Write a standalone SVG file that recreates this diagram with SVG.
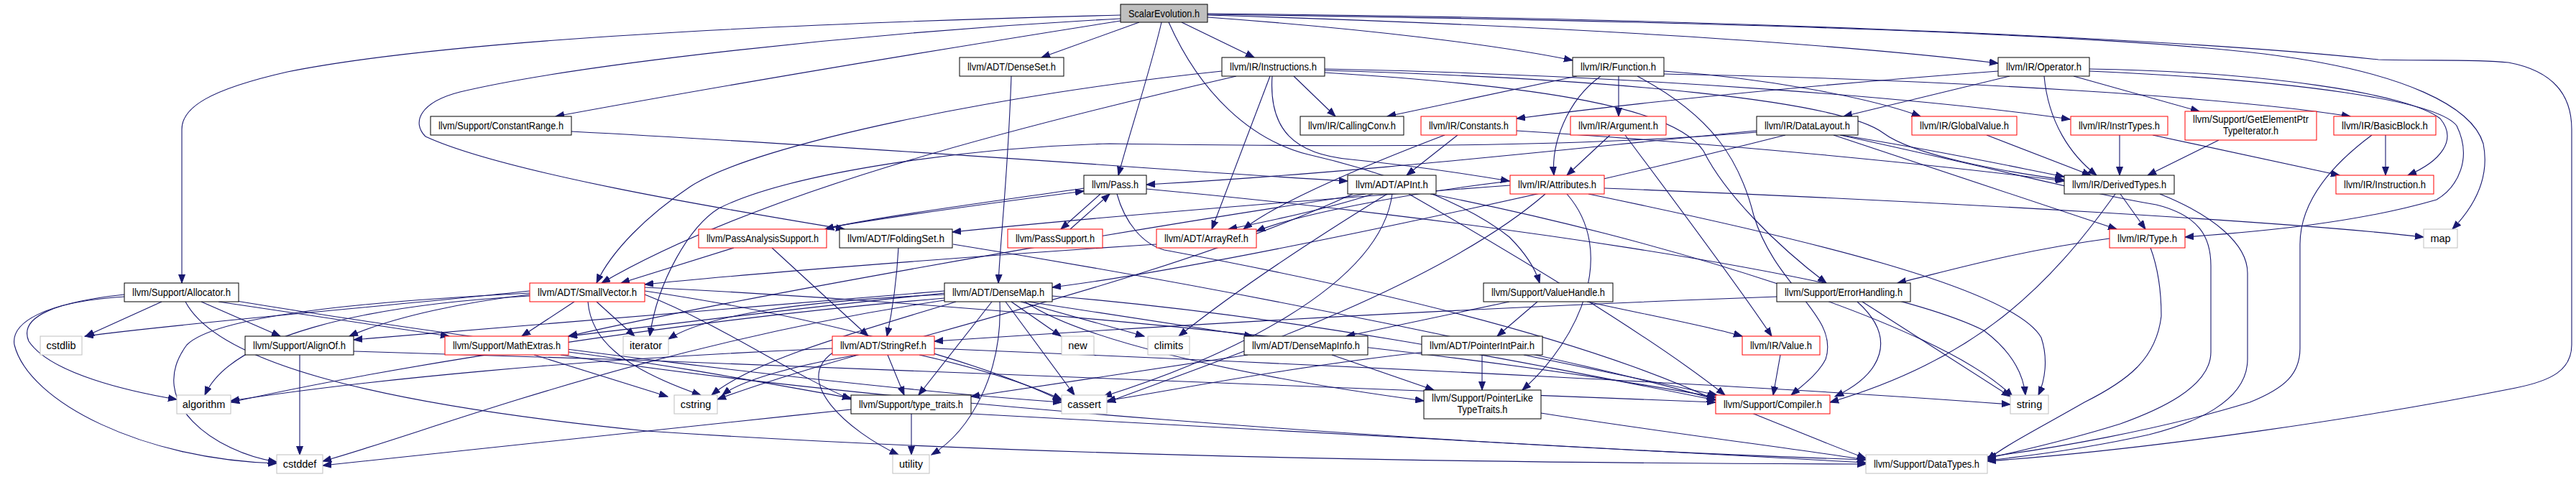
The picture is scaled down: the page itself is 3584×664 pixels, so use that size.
<svg xmlns="http://www.w3.org/2000/svg" width="3584" height="664" viewBox="0 0 3584 664">
<defs>
<style>
.n rect{fill:#fff;stroke:#000;stroke-width:1}
.n.r rect{stroke:#ff0000}
.n.g rect{stroke:#bfbfbf}
.n.root rect{fill:#bfbfbf}
text{font-family:"Liberation Sans",Arial,sans-serif;font-size:14.5px;fill:#000;text-anchor:middle}
#edges path{fill:none;stroke:#191970;stroke-width:1.1;marker-end:url(#ah)}
</style>
<marker id="ah" markerUnits="userSpaceOnUse" markerWidth="13" markerHeight="10" refX="12" refY="5" orient="auto"><path d="M0,0.5 L12,5 L0,9.5 z" fill="#191970" stroke="#191970" stroke-width="1"/></marker>
</defs>
<rect width="3584" height="664" fill="#fff"/>
<g id="edges">
<path d="M1585,31 L1449,80"/>
<path d="M1644,31 L1745,80"/>
<path d="M1616,31 C1600,100 1570,190 1556,244"/>
<path d="M1626,31 C1670,130 1740,195 1820,215 C1950,245 2050,290 2100,330 C2120,350 2135,370 2142,394"/>
<path d="M1680,24 C1900,40 2080,62 2188,84"/>
<path d="M1680,21 C2150,35 2550,60 2780,88"/>
<path d="M1680,20 C2300,28 2900,45 3150,75 C3350,100 3440,150 3455,200 C3465,250 3440,290 3412,319"/>
<path d="M1680,19 C2300,24 3000,50 3309,83 C3380,85 3440,82 3490,87 C3560,100 3578,140 3578,180 L3578,480 C3578,515 3550,530 3500,540 C3300,580 3000,625 2765,642"/>
<path d="M1559,29 C1300,70 1000,120 773,162"/>
<path d="M1559,21 C1000,35 600,60 400,100 C290,125 253,150 253,180 L253,394"/>
<path d="M1559,26 C1200,45 800,90 640,128 C585,142 572,170 592,190 C700,240 1000,290 1175,319"/>
<path d="M1407,106 C1402,250 1392,330 1389,394"/>
<path d="M1800,106 L1858,162"/>
<path d="M1767,106 L1686,319"/>
<path d="M1700,99 C1400,130 1050,200 960,260 C900,300 850,350 830,394"/>
<path d="M1720,106 C1400,180 1050,270 837,394"/>
<path d="M2444,184 C2200,205 1900,205 1544,200 C1350,205 1100,240 1000,290 C960,315 915,390 904,468"/>
<path d="M1770,106 C1765,180 1800,215 1880,222 C1960,230 2040,242 2100,252"/>
<path d="M1843,96 C2300,105 2700,140 2880,166"/>
<path d="M1843,98 C2250,110 2560,140 2620,185 C2660,215 2780,238 2871,250"/>
<path d="M1843,101 C2150,120 2330,150 2370,210 C2400,270 2470,340 2541,394"/>
<path d="M2194,106 L1930,162"/>
<path d="M2252,106 L2252,162"/>
<path d="M2227,106 C2180,140 2158,200 2162,244"/>
<path d="M2315,99 C2450,108 2600,135 2672,162"/>
<path d="M2315,103 C2700,110 3100,135 3270,162"/>
<path d="M2278,106 C2380,160 2420,220 2440,300 C2470,400 2560,440 2540,500 C2530,520 2510,535 2492,550"/>
<path d="M2780,99 C2500,120 2300,140 2110,165"/>
<path d="M2796,106 L2565,162"/>
<path d="M2844,106 C2850,170 2880,215 2917,244"/>
<path d="M2885,106 L3060,155"/>
<path d="M2907,96 C3150,100 3350,130 3395,165 C3420,195 3395,225 3350,244"/>
<path d="M2907,99 C3200,112 3390,140 3418,175 C3440,220 3420,260 3390,278 C3280,310 3150,322 3040,330"/>
<path d="M795,183 C1300,210 1700,243 1875,252"/>
<path d="M2028,188 L1957,244"/>
<path d="M2010,188 C1900,230 1780,280 1730,319"/>
<path d="M2110,182 C2400,200 2700,230 2872,252"/>
<path d="M2240,188 L2180,244"/>
<path d="M2261,188 C2330,280 2420,400 2465,468"/>
<path d="M2444,182 C2200,205 1900,240 1595,257"/>
<path d="M2484,188 C2200,260 1700,370 1464,400"/>
<path d="M2561,188 C2700,210 2800,232 2872,246"/>
<path d="M2551,188 L2945,319"/>
<path d="M2560,188 C2800,240 2900,268 3000,285 C3060,300 3076,330 3076,370 L3076,490 C3076,540 3000,572 2950,590 C2870,615 2800,630 2765,638"/>
<path d="M2764,188 L2909,244"/>
<path d="M2949,188 L2949,244"/>
<path d="M2995,188 L3255,244"/>
<path d="M3087,195 L2988,244"/>
<path d="M3319,188 L3319,244"/>
<path d="M3300,188 C3230,240 3200,290 3200,340 L3200,485 C3200,520 3180,540 3130,560 C3000,600 2850,625 2765,636"/>
<path d="M1508,262 C1350,285 1200,305 1148,319"/>
<path d="M1531,270 L1476,319"/>
<path d="M1554,270 C1565,310 1590,340 1620,348 C1900,400 2200,470 2387,557"/>
<path d="M1595,263 C2000,300 2600,380 2760,460 C2800,490 2815,520 2818,550"/>
<path d="M1489,319 L1544,270"/>
<path d="M1150,317 C1250,300 1400,280 1508,266"/>
<path d="M1021,345 L864,394"/>
<path d="M1074,345 L1208,468"/>
<path d="M1250,345 C1247,400 1240,440 1234,468"/>
<path d="M1326,340 C1700,400 2200,500 2400,560 C2500,600 2560,625 2596,638"/>
<path d="M1609,340 C1300,360 1000,385 897,396"/>
<path d="M1910,270 C1850,290 1780,305 1709,319"/>
<path d="M1900,270 C1500,330 1000,420 791,468"/>
<path d="M1930,270 C1800,350 1700,420 1640,468"/>
<path d="M1937,270 C1920,400 1700,500 1535,552"/>
<path d="M1882,270 C1600,400 1200,480 998,556"/>
<path d="M1990,270 C2300,330 2700,450 2800,552"/>
<path d="M1960,270 C2100,350 2300,470 2400,550"/>
<path d="M2101,252 C1950,270 1800,300 1748,322"/>
<path d="M2101,258 C1800,280 1500,305 1325,323"/>
<path d="M2232,262 C2700,280 3200,310 3372,330"/>
<path d="M2180,270 C2250,350 2200,470 2118,543"/>
<path d="M2150,270 C2000,400 1700,500 1540,560"/>
<path d="M2210,270 C2500,330 2800,400 2840,470 C2850,500 2845,530 2836,550"/>
<path d="M2950,270 L2985,319"/>
<path d="M2943,270 C2850,400 2750,500 2546,560"/>
<path d="M3005,270 C3080,300 3127,340 3127,380 L3127,500 C3127,560 3050,590 2990,605 C2900,625 2820,635 2765,641"/>
<path d="M2935,332 C2800,350 2700,380 2640,394"/>
<path d="M2992,345 C3005,380 3007,420 3007,440 C3000,500 2960,530 2900,560 C2830,600 2790,620 2765,640"/>
<path d="M2100,420 L1873,468"/>
<path d="M2139,420 L2083,468"/>
<path d="M2208,420 C2300,440 2380,455 2424,468"/>
<path d="M2472,413 C2000,430 1600,455 1300,475"/>
<path d="M2584,420 C2640,470 2620,520 2553,552"/>
<path d="M2591,420 L2797,552"/>
<path d="M2477,494 L2467,550"/>
<path d="M225,420 L119,468"/>
<path d="M280,420 L390,468"/>
<path d="M173,410 C80,420 25,440 40,475 C70,520 180,545 246,556"/>
<path d="M173,413 C60,420 15,450 20,480 C40,560 200,640 385,645"/>
<path d="M304,420 L625,468"/>
<path d="M329,419 C700,480 1200,540 1477,560"/>
<path d="M258,420 C300,500 500,560 900,600 C1500,640 2200,645 2596,646"/>
<path d="M417,494 L417,633"/>
<path d="M492,489 C1200,510 2000,540 2387,560"/>
<path d="M799,420 L726,468"/>
<path d="M830,420 L883,468"/>
<path d="M818,420 C822,470 860,510 975,550"/>
<path d="M737,410 C650,420 550,440 486,468"/>
<path d="M737,405 C500,430 250,450 118,468"/>
<path d="M737,412 C500,425 320,470 285,550"/>
<path d="M737,408 C500,420 300,440 260,480 C200,560 300,630 385,643"/>
<path d="M897,410 C1000,450 1100,520 1184,556"/>
<path d="M897,405 C1200,450 1400,520 1477,558"/>
<path d="M897,400 C1500,430 2100,500 2387,553"/>
<path d="M743,494 L929,552"/>
<path d="M791,490 C950,510 1100,540 1184,554"/>
<path d="M780,494 C1200,560 2000,620 2596,640"/>
<path d="M1235,494 L1258,550"/>
<path d="M1279,494 C1350,510 1420,530 1477,556"/>
<path d="M1193,494 C1100,510 1030,530 1005,550"/>
<path d="M1158,485 C800,500 500,530 321,558"/>
<path d="M1160,490 C1100,530 1180,600 1250,633"/>
<path d="M1300,485 C1900,510 2500,540 2797,563"/>
<path d="M1380,420 L1278,550"/>
<path d="M1391,420 C1395,520 1350,600 1296,633"/>
<path d="M1399,420 L1495,550"/>
<path d="M1407,420 L1476,468"/>
<path d="M1420,420 L1592,468"/>
<path d="M1430,420 L1743,468"/>
<path d="M1426,420 C1500,470 1700,520 1981,558"/>
<path d="M1464,412 C1800,440 2100,500 2387,557"/>
<path d="M1314,405 C1000,430 700,455 492,473"/>
<path d="M1314,408 C1100,430 900,455 791,468"/>
<path d="M1314,415 C900,450 500,520 321,560"/>
<path d="M1314,418 C900,480 600,600 449,642"/>
<path d="M1330,420 C1200,460 1050,500 990,550"/>
<path d="M1314,410 C1100,420 980,440 930,472"/>
<path d="M1853,494 L1995,543"/>
<path d="M1736,494 L1351,552"/>
<path d="M2062,494 L2062,543"/>
<path d="M2120,494 L2389,550"/>
<path d="M1982,490 C1800,510 1650,540 1540,558"/>
<path d="M2144,575 C2300,600 2500,625 2596,640"/>
<path d="M1268,576 L1268,633"/>
<path d="M1351,576 C1800,600 2300,630 2596,644"/>
<path d="M1184,570 C900,600 600,630 449,648"/>
</g>
<g id="n_se" class="n root"><rect x="1559" y="6" width="121" height="25"/><text x="1619.5" y="24" textLength="99" lengthAdjust="spacingAndGlyphs">ScalarEvolution.h</text></g>
<g id="n_denseset" class="n"><rect x="1335" y="80" width="145" height="26"/><text x="1407.5" y="98" textLength="123" lengthAdjust="spacingAndGlyphs">llvm/ADT/DenseSet.h</text></g>
<g id="n_instructions" class="n"><rect x="1700" y="80" width="143" height="26"/><text x="1771.5" y="98" textLength="121" lengthAdjust="spacingAndGlyphs">llvm/IR/Instructions.h</text></g>
<g id="n_function" class="n"><rect x="2188" y="80" width="127" height="26"/><text x="2251.5" y="98" textLength="105" lengthAdjust="spacingAndGlyphs">llvm/IR/Function.h</text></g>
<g id="n_operator" class="n"><rect x="2780" y="80" width="127" height="26"/><text x="2843.5" y="98" textLength="105" lengthAdjust="spacingAndGlyphs">llvm/IR/Operator.h</text></g>
<g id="n_constantrange" class="n"><rect x="599" y="162" width="196" height="26"/><text x="697" y="180" textLength="174" lengthAdjust="spacingAndGlyphs">llvm/Support/ConstantRange.h</text></g>
<g id="n_callingconv" class="n"><rect x="1809" y="162" width="144" height="26"/><text x="1881" y="180" textLength="122" lengthAdjust="spacingAndGlyphs">llvm/IR/CallingConv.h</text></g>
<g id="n_constants" class="n r"><rect x="1977" y="162" width="133" height="26"/><text x="2043.5" y="180" textLength="111" lengthAdjust="spacingAndGlyphs">llvm/IR/Constants.h</text></g>
<g id="n_argument" class="n r"><rect x="2185" y="162" width="133" height="26"/><text x="2251.5" y="180" textLength="111" lengthAdjust="spacingAndGlyphs">llvm/IR/Argument.h</text></g>
<g id="n_datalayout" class="n"><rect x="2444" y="162" width="141" height="26"/><text x="2514.5" y="180" textLength="119" lengthAdjust="spacingAndGlyphs">llvm/IR/DataLayout.h</text></g>
<g id="n_globalvalue" class="n r"><rect x="2660" y="162" width="146" height="26"/><text x="2733" y="180" textLength="124" lengthAdjust="spacingAndGlyphs">llvm/IR/GlobalValue.h</text></g>
<g id="n_instrtypes" class="n r"><rect x="2881" y="162" width="135" height="26"/><text x="2948.5" y="180" textLength="113" lengthAdjust="spacingAndGlyphs">llvm/IR/InstrTypes.h</text></g>
<g id="n_gep" class="n r"><rect x="3040" y="155" width="183" height="40"/><text x="3131.5" y="171" textLength="161" lengthAdjust="spacingAndGlyphs">llvm/Support/GetElementPtr</text><text x="3131.5" y="187" textLength="77" lengthAdjust="spacingAndGlyphs">TypeIterator.h</text></g>
<g id="n_basicblock" class="n r"><rect x="3247" y="162" width="142" height="26"/><text x="3318" y="180" textLength="120" lengthAdjust="spacingAndGlyphs">llvm/IR/BasicBlock.h</text></g>
<g id="n_pass" class="n"><rect x="1508" y="244" width="87" height="26"/><text x="1551.5" y="262" textLength="65" lengthAdjust="spacingAndGlyphs">llvm/Pass.h</text></g>
<g id="n_apint" class="n"><rect x="1875" y="244" width="123" height="26"/><text x="1936.5" y="262" textLength="101" lengthAdjust="spacingAndGlyphs">llvm/ADT/APInt.h</text></g>
<g id="n_attributes" class="n r"><rect x="2101" y="244" width="131" height="26"/><text x="2166.5" y="262" textLength="109" lengthAdjust="spacingAndGlyphs">llvm/IR/Attributes.h</text></g>
<g id="n_derivedtypes" class="n"><rect x="2872" y="244" width="153" height="26"/><text x="2948.5" y="262" textLength="131" lengthAdjust="spacingAndGlyphs">llvm/IR/DerivedTypes.h</text></g>
<g id="n_instruction" class="n r"><rect x="3250" y="244" width="136" height="26"/><text x="3318" y="262" textLength="114" lengthAdjust="spacingAndGlyphs">llvm/IR/Instruction.h</text></g>
<g id="n_pas" class="n r"><rect x="972" y="319" width="178" height="26"/><text x="1061" y="337" textLength="156" lengthAdjust="spacingAndGlyphs">llvm/PassAnalysisSupport.h</text></g>
<g id="n_foldingset" class="n"><rect x="1168" y="319" width="157" height="26"/><text x="1246.5" y="337" textLength="135" lengthAdjust="spacingAndGlyphs">llvm/ADT/FoldingSet.h</text></g>
<g id="n_passsupport" class="n r"><rect x="1402" y="319" width="132" height="26"/><text x="1468" y="337" textLength="110" lengthAdjust="spacingAndGlyphs">llvm/PassSupport.h</text></g>
<g id="n_arrayref" class="n r"><rect x="1609" y="319" width="139" height="26"/><text x="1678.5" y="337" textLength="117" lengthAdjust="spacingAndGlyphs">llvm/ADT/ArrayRef.h</text></g>
<g id="n_type" class="n r"><rect x="2935" y="319" width="105" height="26"/><text x="2987.5" y="337" textLength="83" lengthAdjust="spacingAndGlyphs">llvm/IR/Type.h</text></g>
<g id="n_map" class="n g"><rect x="3372" y="319" width="47" height="26"/><text x="3395.5" y="337">map</text></g>
<g id="n_allocator" class="n"><rect x="173" y="394" width="159" height="26"/><text x="252.5" y="412" textLength="137" lengthAdjust="spacingAndGlyphs">llvm/Support/Allocator.h</text></g>
<g id="n_smallvector" class="n r"><rect x="737" y="394" width="160" height="26"/><text x="817" y="412" textLength="138" lengthAdjust="spacingAndGlyphs">llvm/ADT/SmallVector.h</text></g>
<g id="n_densemap" class="n"><rect x="1314" y="394" width="150" height="26"/><text x="1389" y="412" textLength="128" lengthAdjust="spacingAndGlyphs">llvm/ADT/DenseMap.h</text></g>
<g id="n_valuehandle" class="n"><rect x="2064" y="394" width="180" height="26"/><text x="2154" y="412" textLength="158" lengthAdjust="spacingAndGlyphs">llvm/Support/ValueHandle.h</text></g>
<g id="n_errorhandling" class="n"><rect x="2472" y="394" width="186" height="26"/><text x="2565" y="412" textLength="164" lengthAdjust="spacingAndGlyphs">llvm/Support/ErrorHandling.h</text></g>
<g id="n_cstdlib" class="n g"><rect x="56" y="468" width="58" height="26"/><text x="85" y="486">cstdlib</text></g>
<g id="n_alignof" class="n"><rect x="341" y="468" width="151" height="26"/><text x="416.5" y="486" textLength="129" lengthAdjust="spacingAndGlyphs">llvm/Support/AlignOf.h</text></g>
<g id="n_mathextras" class="n r"><rect x="619" y="468" width="172" height="26"/><text x="705" y="486" textLength="150" lengthAdjust="spacingAndGlyphs">llvm/Support/MathExtras.h</text></g>
<g id="n_iterator" class="n g"><rect x="867" y="468" width="63" height="26"/><text x="898.5" y="486">iterator</text></g>
<g id="n_stringref" class="n r"><rect x="1158" y="468" width="142" height="26"/><text x="1229" y="486" textLength="120" lengthAdjust="spacingAndGlyphs">llvm/ADT/StringRef.h</text></g>
<g id="n_new" class="n g"><rect x="1477" y="468" width="45" height="26"/><text x="1499.5" y="486">new</text></g>
<g id="n_climits" class="n g"><rect x="1597" y="468" width="58" height="26"/><text x="1626" y="486">climits</text></g>
<g id="n_densemapinfo" class="n"><rect x="1731" y="468" width="172" height="26"/><text x="1817" y="486" textLength="150" lengthAdjust="spacingAndGlyphs">llvm/ADT/DenseMapInfo.h</text></g>
<g id="n_pointerintpair" class="n"><rect x="1978" y="468" width="168" height="26"/><text x="2062" y="486" textLength="146" lengthAdjust="spacingAndGlyphs">llvm/ADT/PointerIntPair.h</text></g>
<g id="n_value" class="n r"><rect x="2424" y="468" width="108" height="26"/><text x="2478" y="486" textLength="86" lengthAdjust="spacingAndGlyphs">llvm/IR/Value.h</text></g>
<g id="n_algorithm" class="n g"><rect x="246" y="550" width="75" height="26"/><text x="283.5" y="568">algorithm</text></g>
<g id="n_cstring" class="n g"><rect x="938" y="550" width="60" height="26"/><text x="968" y="568">cstring</text></g>
<g id="n_typetraits" class="n"><rect x="1184" y="550" width="167" height="26"/><text x="1267.5" y="568" textLength="145" lengthAdjust="spacingAndGlyphs">llvm/Support/type_traits.h</text></g>
<g id="n_cassert" class="n g"><rect x="1477" y="550" width="63" height="26"/><text x="1508.5" y="568">cassert</text></g>
<g id="n_pointerlike" class="n"><rect x="1981" y="543" width="163" height="40"/><text x="2062.5" y="559" textLength="141" lengthAdjust="spacingAndGlyphs">llvm/Support/PointerLike</text><text x="2062.5" y="575" textLength="70" lengthAdjust="spacingAndGlyphs">TypeTraits.h</text></g>
<g id="n_compiler" class="n r"><rect x="2387" y="550" width="159" height="26"/><text x="2466.5" y="568" textLength="137" lengthAdjust="spacingAndGlyphs">llvm/Support/Compiler.h</text></g>
<g id="n_string" class="n g"><rect x="2797" y="550" width="53" height="26"/><text x="2823.5" y="568">string</text></g>
<g id="n_cstddef" class="n g"><rect x="385" y="633" width="64" height="26"/><text x="417" y="651">cstddef</text></g>
<g id="n_utility" class="n g"><rect x="1242" y="633" width="51" height="26"/><text x="1267.5" y="651">utility</text></g>
<g id="n_datatypes" class="n g"><rect x="2596" y="633" width="169" height="26"/><text x="2680.5" y="651" textLength="147" lengthAdjust="spacingAndGlyphs">llvm/Support/DataTypes.h</text></g>
</svg>
